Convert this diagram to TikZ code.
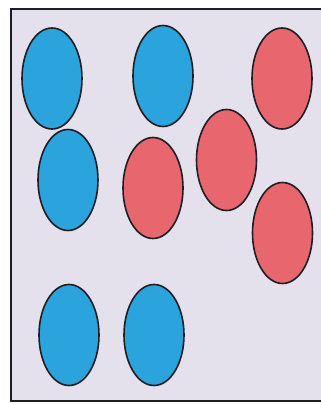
\documentclass[tikz,border=0pt]{standalone}
\usetikzlibrary{shapes.geometric}
\definecolor{bg}{HTML}{E4E1EC}
\definecolor{dotblue}{HTML}{2BA3DC}
\definecolor{dotred}{HTML}{E8676F}
\definecolor{rim}{HTML}{1E1E24}
\tikzset{
  dot/.style={ellipse, draw=rim, line width=1.6pt, inner sep=0pt,
    minimum width=60pt, minimum height=101pt},
  bluedot/.style={dot, fill=dotblue},
  reddot/.style={dot, fill=dotred}
}
\begin{document}
\begin{tikzpicture}[x=1pt,y=-1pt]
\useasboundingbox (0,0) rectangle (321,404);
\fill[white] (0,0) rectangle (321,404);
\clip (0,0) rectangle (321,404);
\draw[rim, line width=1.4pt, fill=bg] (11,9) rectangle (324,401);
\node[bluedot] (b1) at (52,78.5) {};
\node[bluedot] (b2) at (163,76) {};
\node[reddot]  (r1) at (282,78.5) {};
\node[bluedot] (b3) at (68,180) {};
\node[reddot]  (r2) at (153,188) {};
\node[reddot]  (r3) at (226.5,160) {};
\node[reddot]  (r4) at (282.5,233) {};
\node[bluedot] (b4) at (69,335) {};
\node[bluedot] (b5) at (154,335) {};
\end{tikzpicture}
\end{document}
